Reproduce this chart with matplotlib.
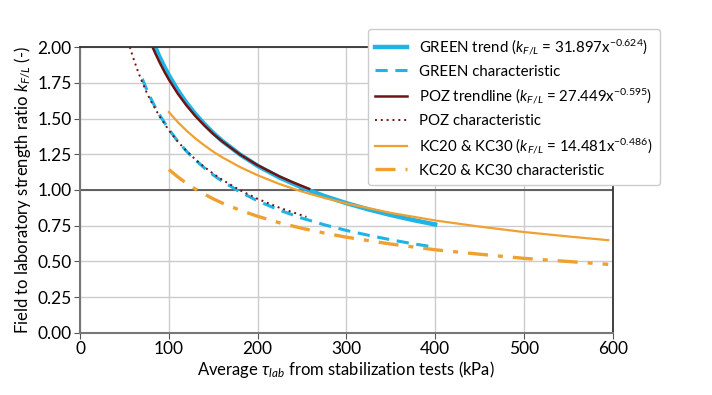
import matplotlib.pyplot as plt

plt.rcParams['font.family'] = ['Lato', 'DejaVu Sans']
plt.rcParams['mathtext.fontset'] = 'custom'
plt.rcParams['mathtext.rm'] = 'Lato'
plt.rcParams['mathtext.it'] = 'Lato:italic'
plt.rcParams['mathtext.bf'] = 'Lato:bold'

# values
greenX = [85, 90, 95, 100, 110, 120, 130, 140, 150, 160, 180, 200, 225, 250, 275, 300, 325, 350, 375, 400]
greenTrend = [1.994, 1.924, 1.861, 1.802, 1.698, 1.608, 1.530, 1.461, 1.399, 1.344, 1.249, 1.169, 1.086,
              1.017, 0.958, 0.908, 0.864, 0.825, 0.790, 0.759]

greenCharX = [70, 75, 80, 85, 90, 100, 110, 120, 130, 140, 150, 160, 180, 200, 225, 250, 275, 300, 325, 350, 375, 400]
greenChar = [1.778, 1.703, 1.636, 1.575, 1.520, 1.424, 1.341, 1.270, 1.209, 1.154, 1.105, 1.062, 0.987,
             0.924, 0.858, 0.803, 0.757, 0.717, 0.683, 0.652, 0.624, 0.600]

pozX = [82, 85, 90, 95, 100, 110, 120, 130, 140, 150, 160, 180, 200, 225, 240, 258]
pozTrend = [1.994, 1.952, 1.887, 1.827, 1.772, 1.674, 1.590, 1.516, 1.451, 1.392, 1.340, 1.249, 1.173,
            1.094, 1.053, 1.008]

pozCharX = [56, 60, 65, 70, 75, 80, 90, 100, 110, 120, 130, 140, 150, 160, 180, 200, 225, 255]
pozChar = [2.00, 1.922, 1.832, 1.753, 1.682, 1.619, 1.510, 1.418, 1.339, 1.272, 1.213, 1.161, 1.114,
           1.072, 0.999, 0.938, 0.875, 0.812]

kcX = [100, 110, 120, 130, 140, 150, 160, 180, 200, 225, 250, 275, 300, 350, 400, 450, 500, 550, 595]
kcTrend = [1.545, 1.475, 1.414, 1.360, 1.312, 1.268, 1.229, 1.161, 1.103, 1.041, 0.989, 0.945, 0.906,
           0.840, 0.787, 0.744, 0.706, 0.675, 0.649]
kcChar = [1.143, 1.092, 1.046, 1.006, 0.971, 0.938, 0.909, 0.859, 0.816, 0.770, 0.732, 0.699, 0.670,
          0.622, 0.582, 0.551, 0.522, 0.500, 0.480]

xTicks = [0, 100, 200, 300, 400, 500, 600]
yTicks = [0.00, 0.25, 0.50, 0.75, 1.00, 1.25, 1.50, 1.75, 2.00]

blue = '#1fb4e6'
darkRed = '#6e1414'
orange = '#f0a030'

fig = plt.figure(figsize=(7.12, 3.95), dpi=100)
ax = fig.add_axes([0.1125, 0.157, 0.748, 0.724])

ax.grid(True, color='#cccccc', linewidth=1.0)
ax.set_axisbelow(True)
ax.axhline(1.0, color='#555555', linewidth=1.3, zorder=1)

ax.plot(greenX, greenTrend, color=blue, linewidth=3.2,
        label=r'GREEN trend ($k_{F/L}$ = 31.897x$^{-0.624}$)')
ax.plot(greenCharX, greenChar, color=blue, linewidth=2.2, linestyle=(0, (4, 2.5)),
        label='GREEN characteristic')
ax.plot(pozX, pozTrend, color=darkRed, linewidth=1.8,
        label=r'POZ trendline ($k_{F/L}$ = 27.449x$^{-0.595}$)')
ax.plot(pozCharX, pozChar, color=darkRed, linewidth=1.4, linestyle=(0, (1, 2)),
        label='POZ characteristic')
ax.plot(kcX, kcTrend, color=orange, linewidth=1.6,
        label=r'KC20 & KC30 ($k_{F/L}$ = 14.481x$^{-0.486}$)')
ax.plot(kcX, kcChar, color=orange, linewidth=2.4, linestyle=(0, (6, 3, 1.5, 3)),
        label='KC20 & KC30 characteristic')

ax.set_xlim(0, 600)
ax.set_ylim(0, 2)
ax.set_xticks(xTicks)
ax.set_yticks(yTicks)
ax.set_yticklabels(['%.2f' % v for v in yTicks])
ax.tick_params(labelsize=12.5, length=4, color='#555555', pad=2)

for side in ['left', 'bottom']:
    ax.spines[side].set_color('#777777')
    ax.spines[side].set_linewidth(1.5)
for side in ['top', 'right']:
    ax.spines[side].set_color('#333333')
    ax.spines[side].set_linewidth(1.3)

ax.set_xlabel(r'Average $\tau_{lab}$ from stabilization tests (kPa)', fontsize=12, labelpad=1)
ax.set_ylabel(r'Field to laboratory strength ratio $k_{F/L}$ (-)', fontsize=12, labelpad=3)

leg = ax.legend(loc='upper right', bbox_to_anchor=(0.937, 0.945), bbox_transform=fig.transFigure,
                fontsize=10.8, handlelength=2.1, handletextpad=0.8,
                labelspacing=0.52, framealpha=1.0, borderpad=0.5)
leg.get_frame().set_edgecolor('#cccccc')

fig.savefig('out.png', dpi=100)
